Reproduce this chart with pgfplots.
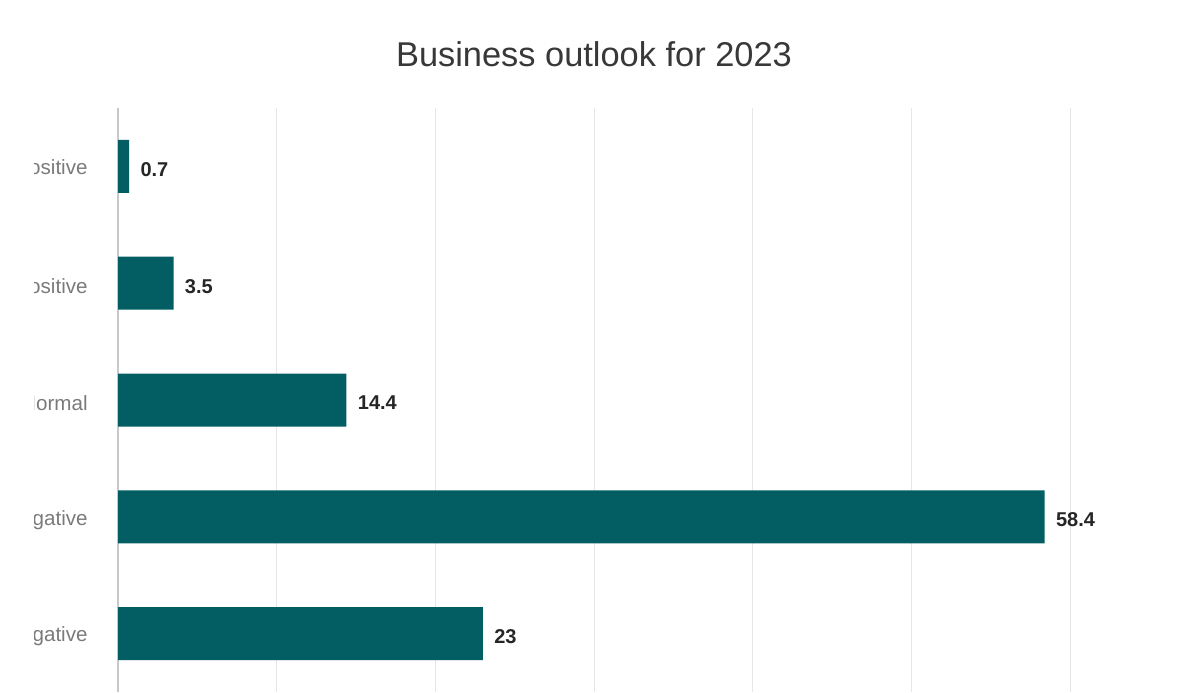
\documentclass[border=0pt]{standalone}
\usepackage{pgfplots}
\pgfplotsset{compat=1.18}
\usepackage{fontspec}
\setmainfont{Liberation Sans}
\definecolor{barteal}{HTML}{035E63}
\definecolor{titlegray}{HTML}{383838}
\definecolor{tickgray}{HTML}{7A7A7A}
\definecolor{gridgray}{HTML}{E6E6E6}
\definecolor{axisgray}{HTML}{C8C8C8}
\begin{document}
\begin{tikzpicture}
\useasboundingbox (0,0) rectangle (593.5pt,346pt);
\clip (17pt,0) rectangle (593.5pt,346pt);
\begin{axis}[
  at={(59pt,0pt)}, anchor=south west,
  scale only axis,
  width=476pt, height=292pt,
  xbar, bar width=26.5pt,
  xmin=0, xmax=60,
  ymin=-0.5, ymax=4.5,
  axis line style={draw=none},
  xtick={10,20,30,40,50,60},
  xticklabels={},
  extra x ticks={0},
  extra x tick labels={},
  extra x tick style={grid style={axisgray, line width=0.6pt}},
  xmajorgrids,
  grid style={gridgray, line width=0.5pt},
  major tick length=0pt,
  ytick={0,1,2,3,4},
  yticklabels={Very negative,Negative,Normal,Positive,Very positive},
  yticklabel style={font=\fontsize{10.3pt}{12pt}\selectfont, color=tickgray, inner sep=0pt, xshift=-15pt, yshift=-1.5pt},
  title={Business outlook for 2023},
  title style={font=\fontsize{17.2pt}{20pt}\selectfont, color=titlegray, at={(0.5,1)}, anchor=center, yshift=21pt},
  nodes near coords,
  nodes near coords style={font=\bfseries\fontsize{10pt}{12pt}\selectfont, color=black!85, anchor=west, inner sep=0pt, xshift=5.5pt, yshift=-1.5pt},
  point meta=explicit symbolic,
  clip=false,
]
\addplot[fill=barteal, draw=none] coordinates {
  (23,0) [23]
  (58.4,1) [58.4]
  (14.4,2) [14.4]
  (3.5,3) [3.5]
  (0.7,4) [0.7]
};
\end{axis}
\end{tikzpicture}
\end{document}
